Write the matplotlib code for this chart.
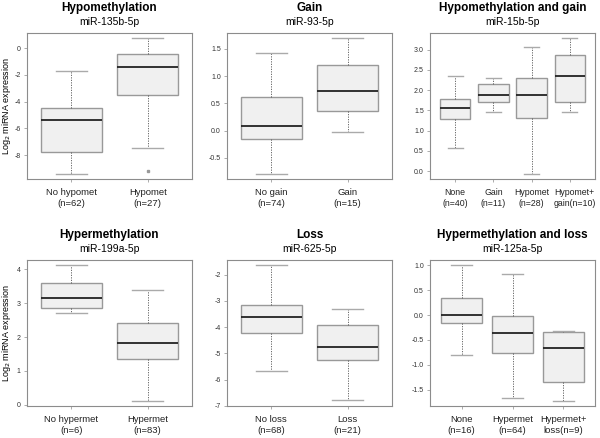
import matplotlib.pyplot as plt
import matplotlib.transforms as mtransforms

plt.rcParams['font.family'] = ['Liberation Sans', 'DejaVu Sans']

# five-number summaries: lower whisker, Q1, median, Q3, upper whisker
titulos = ["Hypomethylation", "Gain", "Hypomethylation and gain",
           "Hypermethylation", "Loss", "Hypermethylation and loss"]
mirnas = ["miR-135b-5p", "miR-93-5p", "miR-15b-5p",
          "miR-199a-5p", "miR-625-5p", "miR-125a-5p"]

rotulos_1 = ["No hypomet\n(n=62)", "Hypomet\n(n=27)"]
caixas_1 = [[-9.38, -7.8, -5.38, -4.5, -1.72], [-7.49, -3.48, -1.42, -0.47, 0.72]]
outliers_1 = [[], [-9.2]]

rotulos_2 = ["No gain\n(n=74)", "Gain\n(n=15)"]
caixas_2 = [[-0.79, -0.16, 0.08, 0.61, 1.42], [-0.03, 0.35, 0.73, 1.21, 1.69]]

rotulos_3 = ["None\n(n=40)", "Gain\n(n=11)", "Hypomet\n(n=28)", "Hypomet+\ngain(n=10)"]
caixas_3 = [[0.56, 1.28, 1.56, 1.79, 2.35], [1.46, 1.72, 1.89, 2.15, 2.31],
            [-0.06, 1.31, 1.89, 2.29, 3.07], [1.47, 1.70, 2.35, 2.86, 3.28]]

rotulos_4 = ["No hypermet\n(n=6)", "Hypermet\n(n=83)"]
caixas_4 = [[2.72, 2.87, 3.16, 3.61, 4.12], [0.12, 1.36, 1.83, 2.41, 3.40]]

rotulos_5 = ["No loss\n(n=68)", "Loss\n(n=21)"]
caixas_5 = [[-5.65, -4.21, -3.63, -3.17, -1.65], [-6.79, -5.24, -4.74, -3.93, -3.31]]

rotulos_6 = ["None\n(n=16)", "Hypermet\n(n=64)", "Hypermet+\nloss(n=9)"]
caixas_6 = [[-0.81, -0.15, 0.0, 0.34, 1.0], [-1.67, -0.77, -0.35, -0.02, 0.82],
            [-1.72, -1.35, -0.67, -0.34, -0.32]]

yticks = [[-8, -6, -4, -2, 0], [-0.5, 0.0, 0.5, 1.0, 1.5], [0.0, 0.5, 1.0, 1.5, 2.0, 2.5, 3.0],
          [0, 1, 2, 3, 4], [-7, -6, -5, -4, -3, -2], [-1.5, -1.0, -0.5, 0.0, 0.5, 1.0]]
ytick_fmt = ["%d", "%.1f", "%.1f", "%d", "%d", "%.1f"]

paineis = [(rotulos_1, caixas_1, outliers_1), (rotulos_2, caixas_2, None),
           (rotulos_3, caixas_3, None), (rotulos_4, caixas_4, None),
           (rotulos_5, caixas_5, None), (rotulos_6, caixas_6, None)]

fig = plt.figure(figsize=(6, 4.38), dpi=100)
W, H = 600, 438
lefts = [27, 227, 430]
tops = [33, 260]
aw, ah = 165, 146

cinza = "#8c8c8c"
for i, (rot, cx, outl) in enumerate(paineis):
    lin, col = divmod(i, 3)
    ax = fig.add_axes([lefts[col] / W, 1 - (tops[lin] + ah) / H, aw / W, ah / H])
    stats = []
    for j, c in enumerate(cx):
        fl = outl[j] if outl else []
        stats.append(dict(whislo=c[0], q1=c[1], med=c[2], q3=c[3], whishi=c[4], fliers=fl))
    n = len(cx)
    ax.bxp(stats, positions=range(1, n + 1), widths=0.8, patch_artist=True,
           boxprops=dict(facecolor="#f0f0f0", edgecolor="#999999", linewidth=1.0),
           medianprops=dict(color="#222222", linewidth=1.3),
           whiskerprops=dict(color="#555555", linestyle=(0, (1.5, 1.5)), linewidth=0.6),
           capprops=dict(color="#aaaaaa", linewidth=1.0),
           flierprops=dict(marker="s", markersize=2, markerfacecolor="#999999",
                           markeredgecolor="#999999"))
    # limites como no R: 4% além dos dados
    vals = [v for c in cx for v in c] + ([v for o in outl for v in o] if outl else [])
    lo, hi = min(vals), max(vals)
    pad = 0.04 * (hi - lo)
    ax.set_ylim(lo - pad, hi + pad)
    ax.set_xlim(0.5 - 0.04 * n, n + 0.5 + 0.04 * n)
    ax.set_yticks(yticks[i])
    ax.set_yticklabels([ytick_fmt[i] % t for t in yticks[i]], fontsize=5, color="#333333")
    ax.set_xticks(range(1, n + 1))
    fs = 6.3 if n == 4 else 6.8
    ax.set_xticklabels(rot, fontsize=fs, linespacing=1.3, color="#222222")
    ax.tick_params(axis="both", length=2.5, width=0.5, color=cinza, pad=2)
    ax.tick_params(axis="x", pad=4)
    if n == 4:
        # o último rótulo fica um pouco à direita, como no original
        lab = ax.get_xticklabels()[-1]
        lab.set_transform(lab.get_transform() +
                          mtransforms.ScaledTranslation(5 / 100, 0, fig.dpi_scale_trans))
    for s in ax.spines.values():
        s.set_color(cinza)
        s.set_linewidth(0.8)

    # titulo e subtitulo em pixels da figura
    xc = (lefts[col] + aw / 2) / W
    fig.text(xc, 1 - (tops[lin] - 25) / H, titulos[i], ha="center", va="center",
             fontsize=8.5, fontweight="bold")
    fig.text(xc, 1 - (tops[lin] - 11) / H, mirnas[i], ha="center", va="center", fontsize=7.5)
    if col == 0:
        fig.text(7 / W, 1 - (tops[lin] + ah / 2) / H, "Log$_2$ miRNA expression",
                 rotation=90, ha="center", va="center", fontsize=6.5)

fig.savefig("out.png", dpi=100)
